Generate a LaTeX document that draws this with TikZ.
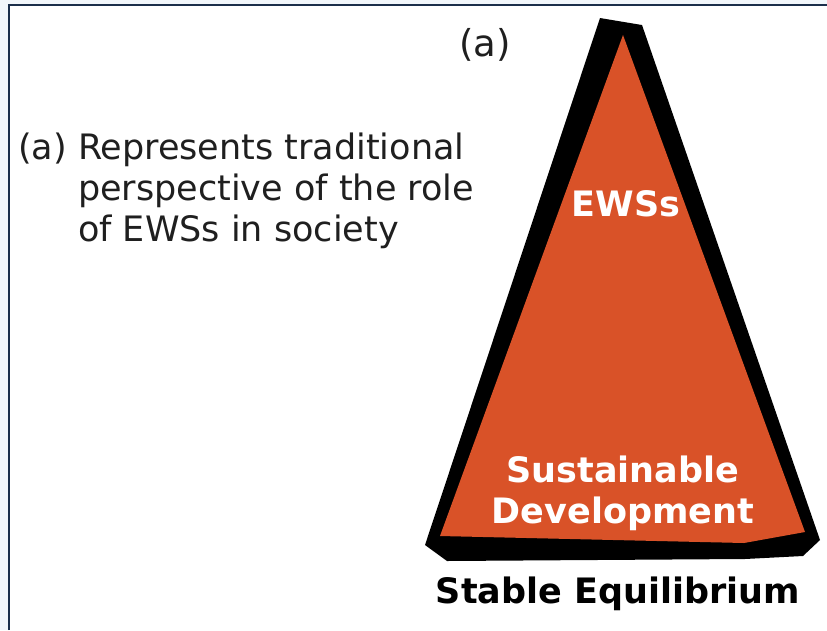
\documentclass[tikz,border=0pt]{standalone}
\usepackage{fontspec}
\setmainfont{DejaVu Sans}
\definecolor{ewsorange}{HTML}{D95228}
\definecolor{framenavy}{HTML}{1B2F4B}
\definecolor{paneblue}{HTML}{F2F7FB}

\begin{document}
\begin{tikzpicture}[x=1pt, y=-1pt, inner sep=0pt,
  plaintext/.style={font=\fontsize{35}{41}\selectfont, text=black!88},
  boldtext/.style={font=\fontsize{35}{41}\selectfont\bfseries, align=center}]
\useasboundingbox (0,0) rectangle (827,630);
\fill[paneblue] (0,0) rectangle (827,630);
\fill[white] (8,5) rectangle (827,630);
\draw[framenavy, line width=2pt] (8.5,630) -- (8.5,5) -- (827,5);

% pyramid
\fill[black] (600,18) -- (642,25) -- (820,540) -- (803,556) -- (745,559) -- (447,561) -- (425,545) -- cycle;
\fill[ewsorange] (623,35) -- (805,532) -- (744,543) -- (440,536) -- cycle;

\node[plaintext, anchor=base, font=\fontsize{37}{41}\selectfont] (tag) at (485,56) {(a)};
\node[plaintext, anchor=north west] (desc) at (18,131) {\begin{tabular}{@{}l@{ }l@{}}(a) & Represents traditional\\ & perspective of the role\\ & of EWSs in society\end{tabular}};

\node[boldtext, text=white, anchor=base] (ews) at (626,216) {EWSs};
\node[boldtext, text=white] (sd) at (623,493) {Sustainable\\Development};
\node[boldtext, anchor=base] (stable) at (618,603) {Stable Equilibrium};
\end{tikzpicture}
\end{document}
